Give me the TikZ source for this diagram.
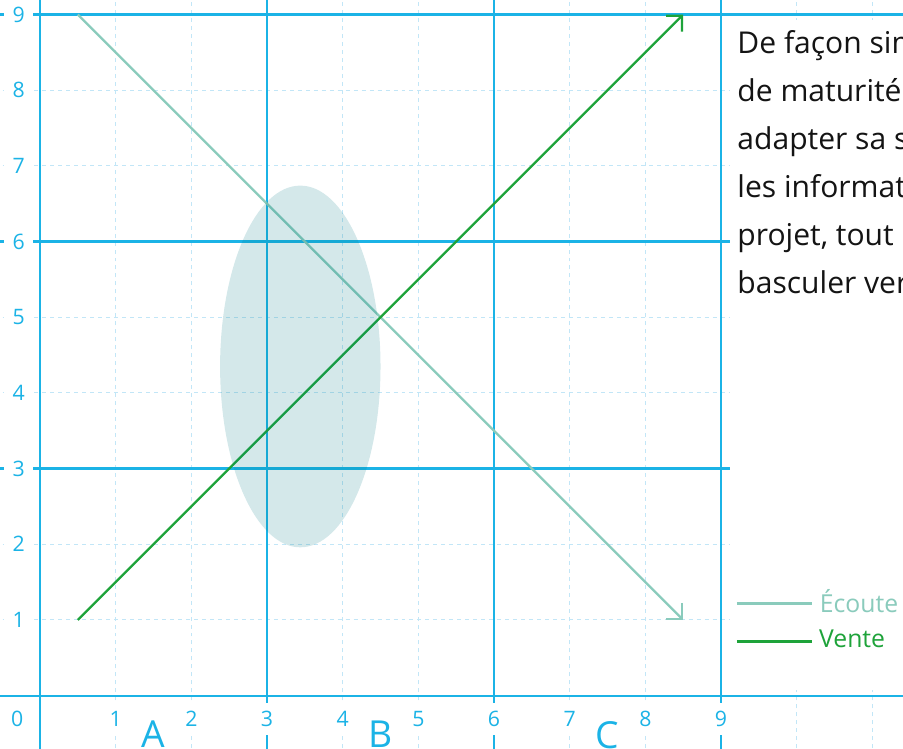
\documentclass[tikz,border=0pt]{standalone}
\usepackage{fontspec}
\setmainfont{Open Sans}
\usetikzlibrary{arrows.meta}
\definecolor{major}{HTML}{1BB3E6}
\definecolor{minor}{HTML}{C2E6F7}
\definecolor{ecoute}{HTML}{8ACBBC}
\definecolor{vente}{HTML}{1EA33A}
\definecolor{ellc}{RGB}{0,120,130}
\definecolor{txt}{HTML}{141414}
\begin{document}
\begin{tikzpicture}[
  majorline/.style={draw=major, line width=0.85pt},
  minorline/.style={draw=minor, line width=0.4pt, dash pattern=on 1.5pt off 1.5pt},
  ytick/.style={text=major, fill=white, font=\fontsize{8}{9}\selectfont, inner sep=0pt, minimum width=0.38cm, minimum height=0.3cm},
  xtick/.style={text=major, fill=white, font=\fontsize{8}{9}\selectfont, inner sep=0pt, minimum width=0.3cm, minimum height=0.42cm},
  zone/.style={text=major, font=\fontsize{14}{16}\selectfont, inner sep=0pt, anchor=north},
  curve/.style={line width=0.9pt, -{Straight Barb[angle=90:6pt]}},
  bodytext/.style={text=txt, font=\fontsize{11.3}{13}\selectfont, inner sep=0pt, anchor=base west},
  legtext/.style={font=\fontsize{9.3}{11}\selectfont, inner sep=0pt, anchor=base west}
]
\useasboundingbox (-0.5286,-0.701) rectangle (11.405,9.193);
\clip (-0.5286,-0.701) rectangle (11.405,9.193);
% minor grid
\foreach \i in {1,2,4,5,7,8,10,11} \draw[minorline] (\i,-0.8) -- (\i,9.3);
\foreach \j in {1,2,4,5,7,8} \draw[minorline] (-0.6,\j) -- (11.5,\j);
% major grid
\foreach \i in {0,3,6,9} \draw[majorline] (\i,-0.8) -- (\i,9.3);
\foreach \j in {0,3,6,9} \draw[majorline] (-0.6,\j) -- (11.5,\j);
% right panel
\fill[white] (9.12,0.07) rectangle (11.5,8.93);
% lines
\coordinate (e0) at (0.5,9);
\coordinate (e1) at (8.5,1);
\coordinate (v0) at (0.5,1);
\coordinate (v1) at (8.5,9);
\draw[curve, ecoute] (e0) -- (e1);
\draw[curve, vente] (v0) -- (v1);
% zone
\fill[ellc, fill opacity=0.17] (3.44,4.35) ellipse [x radius=1.06, y radius=2.39];
% tick labels
\foreach \j in {1,...,9} \node[ytick] (yl\j) at (-0.28,\j) {\j};
\foreach \i in {1,...,9} \node[xtick] (xl\i) at (\i,-0.31) {\i};
\node[xtick] (xl0) at (-0.3,-0.31) {0};
\node[zone] (za) at (1.5,-0.33) {A};
\node[zone] (zb) at (4.5,-0.33) {B};
\node[zone] (zc) at (7.5,-0.33) {C};
% text
\node[bodytext] (t1) at (9.21,8.492) {De façon similaire};
\node[bodytext] (t2) at (9.21,7.857) {de maturité du};
\node[bodytext] (t3) at (9.21,7.222) {adapter sa stratégie};
\node[bodytext] (t4) at (9.21,6.587) {les informations};
\node[bodytext] (t5) at (9.21,5.952) {projet, tout en};
\node[bodytext] (t6) at (9.21,5.317) {basculer vers};
% legend
\coordinate (le0) at (9.21,1.217);
\coordinate (le1) at (10.20,1.217);
\coordinate (lv0) at (9.21,0.714);
\coordinate (lv1) at (10.20,0.714);
\draw[ecoute, line width=0.9pt] (le0) -- (le1);
\draw[vente, line width=0.9pt] (lv0) -- (lv1);
\node[legtext, text=ecoute] (le) at (10.30,1.10) {Écoute};
\node[legtext, text=vente] (lv) at (10.29,0.635) {Vente};
\end{tikzpicture}
\end{document}
